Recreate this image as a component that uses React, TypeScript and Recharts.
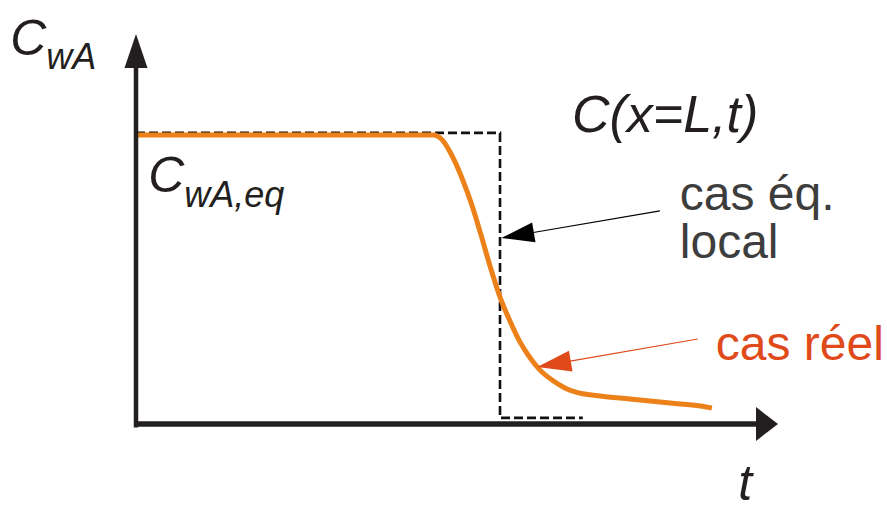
import React from 'react';
import { LineChart, Line, XAxis, YAxis, ReferenceLine, ReferenceDot } from 'recharts';

// Real case C(x=L,t): time (arbitrary units) and concentration (relative to C_wA,eq)
const realT = [0, 4.63, 4.77, 4.89, 5.09, 5.23, 5.36, 5.51, 5.67, 5.83, 5.98, 6.14, 6.29, 6.48, 6.68, 6.84, 7.23, 7.69, 8.32, 8.79, 8.97];
const realC = [0.993, 0.993, 0.976, 0.935, 0.838, 0.753, 0.66, 0.546, 0.436, 0.351, 0.282, 0.227, 0.186, 0.151, 0.124, 0.11, 0.096, 0.086, 0.072, 0.062, 0.055];

// Local-equilibrium case (step)
const eqT = [0, 5.67, 5.67, 6.96];
const eqC = [1, 1, 0.021, 0.021];

const X_DOMAIN: [number, number] = [0, 10];
const Y_DOMAIN: [number, number] = [0, 1.35];

const realData = realT.map((t, i) => ({ t, c: realC[i] }));
const eqData = eqT.map((t, i) => ({ t, c: eqC[i] }));

const FONT = '"Liberation Sans", Arial, Helvetica, sans-serif';
const INK = '#231f20';
const ORANGE = '#ec8019';
const RED = '#e04a1a';
const GREY = '#3d3d3d';

const arrowShape = (color: string, width: number, headLen: number, headHalf: number) => (p: any) => {
  const { x1, y1, x2, y2 } = p;
  const dx = x2 - x1;
  const dy = y2 - y1;
  const len = Math.sqrt(dx * dx + dy * dy) || 1;
  const ux = dx / len;
  const uy = dy / len;
  const bx = x2 - ux * headLen;
  const by = y2 - uy * headLen;
  const nx = -uy;
  const ny = ux;
  const pts = `${x2},${y2} ${bx + nx * headHalf},${by + ny * headHalf} ${bx - nx * headHalf},${by - ny * headHalf}`;
  return (
    <g>
      <line x1={x1} y1={y1} x2={bx + ux * 2} y2={by + uy * 2} stroke={color} strokeWidth={width} />
      <polygon points={pts} fill={color} />
    </g>
  );
};

const textShape = (render: (x: number, y: number) => React.ReactElement) => (p: any) => render(p.cx, p.cy);

export default function App() {
  return (
    <div style={{ position: 'absolute', left: 0, top: 0, width: 887, height: 511, background: '#fff' }}>
      <LineChart
        width={887}
        height={511}
        margin={{ top: 31, right: 109, bottom: 87, left: 136 }}
      >
        <XAxis type="number" dataKey="t" domain={X_DOMAIN} hide allowDataOverflow />
        <YAxis type="number" dataKey="c" domain={Y_DOMAIN} hide allowDataOverflow />

        <Line
          data={eqData}
          dataKey="c"
          type="linear"
          stroke="#111"
          strokeWidth={2.6}
          strokeDasharray="9 4"
          dot={false}
          activeDot={false}
          isAnimationActive={false}
        />
        <Line
          data={realData}
          dataKey="c"
          type="monotone"
          stroke={ORANGE}
          strokeWidth={5}
          dot={false}
          activeDot={false}
          isAnimationActive={false}
        />

        {/* axes with arrowheads */}
        <ReferenceLine
          segment={[{ x: 0, y: 0 }, { x: 10, y: 0 }]}
          ifOverflow="visible"
          shape={arrowShape(INK, 5.5, 22, 17)}
        />
        <ReferenceLine
          segment={[{ x: 0, y: -0.012 }, { x: 0, y: 1.34 }]}
          ifOverflow="visible"
          shape={arrowShape(INK, 4.5, 34, 11.5)}
        />

        {/* annotation arrows */}
        <ReferenceLine
          segment={[{ x: 8.16, y: 0.732 }, { x: 5.69, y: 0.639 }]}
          ifOverflow="visible"
          shape={arrowShape('#000', 1.2, 33, 10)}
        />
        <ReferenceLine
          segment={[{ x: 8.75, y: 0.292 }, { x: 6.25, y: 0.196 }]}
          ifOverflow="visible"
          shape={arrowShape(RED, 1.2, 34, 10.5)}
        />

        {/* labels */}
        <ReferenceDot
          x={-1.96}
          y={1.268}
          ifOverflow="visible"
          shape={textShape((x, y) => (
            <text x={x} y={y} fontFamily={FONT} fontStyle="italic" fontSize={50} fill={INK}>
              C<tspan fontSize={36} dy={14}>wA</tspan>
            </text>
          ))}
        />
        <ReferenceDot
          x={0.19}
          y={0.797}
          ifOverflow="visible"
          shape={textShape((x, y) => (
            <text x={x} y={y} fontFamily={FONT} fontStyle="italic" fontSize={50} fill={INK}>
              C<tspan fontSize={36} dy={15}>wA,eq</tspan>
            </text>
          ))}
        />
        <ReferenceDot
          x={6.79}
          y={1.003}
          ifOverflow="visible"
          shape={textShape((x, y) => (
            <text x={x} y={y} fontFamily={FONT} fontStyle="italic" fontSize={52} fill={INK}>
              C(x=L,t)
            </text>
          ))}
        />
        <ReferenceDot
          x={8.47}
          y={0.735}
          ifOverflow="visible"
          shape={textShape((x, y) => (
            <text x={x} y={y} fontFamily={FONT} fontSize={48} fill={GREY}>
              cas éq.
            </text>
          ))}
        />
        <ReferenceDot
          x={8.47}
          y={0.57}
          ifOverflow="visible"
          shape={textShape((x, y) => (
            <text x={x} y={y} fontFamily={FONT} fontSize={48} fill={GREY}>
              local
            </text>
          ))}
        />
        <ReferenceDot
          x={9.03}
          y={0.22}
          ifOverflow="visible"
          shape={textShape((x, y) => (
            <text x={x} y={y} fontFamily={FONT} fontSize={48} fill={RED}>
              cas réel
            </text>
          ))}
        />
        <ReferenceDot
          x={9.38}
          y={-0.262}
          ifOverflow="visible"
          shape={textShape((x, y) => (
            <text x={x} y={y} fontFamily={FONT} fontStyle="italic" fontSize={50} fill={INK}>
              t
            </text>
          ))}
        />
      </LineChart>
    </div>
  );
}
